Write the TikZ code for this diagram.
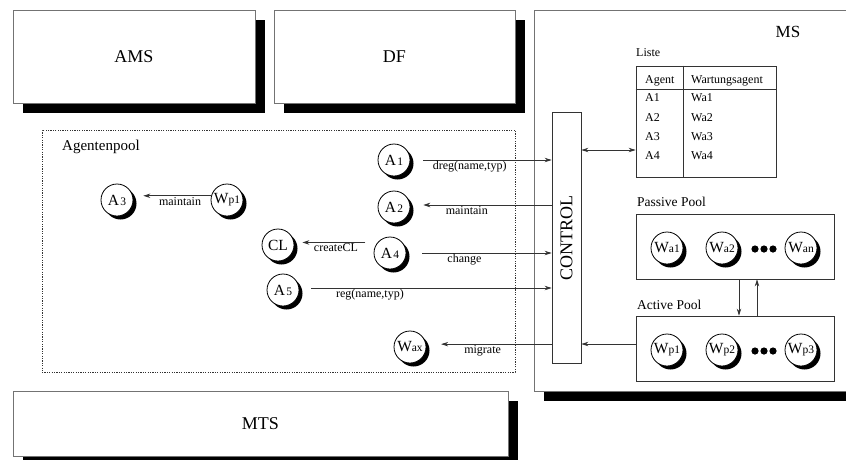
\documentclass[tikz,border=0pt]{standalone}
\usepackage{fontspec}
\setmainfont{Liberation Serif}
\usetikzlibrary{arrows.meta,shadows}
\newcommand\agA[1]{A\hspace{1.5pt}{\fontsize{11.5}{12}\selectfont #1}}
\newcommand\agW[1]{W{\fontsize{11.5}{12}\selectfont #1}}
\begin{document}
\begin{tikzpicture}[x=1pt,y=-1pt,
  bigbox/.style={draw=black!55, line width=0.9pt, fill=white, inner sep=0pt,
    drop shadow={shadow xshift=10pt, shadow yshift=-10pt, fill=black, opacity=1}},
  ag/.style={circle, draw=black, line width=0.8pt, fill=white, minimum size=32pt, inner sep=0pt,
    font=\fontsize{15.5}{16}\selectfont,
    drop shadow={shadow xshift=3.5pt, shadow yshift=-3.5pt, fill=black, opacity=1}},
  arr/.style={draw=black!80, line width=0.8pt, -{Stealth[length=7pt,width=4.5pt]}},
  darr/.style={draw=black!80, line width=0.8pt, {Stealth[length=7pt,width=4.5pt]}-{Stealth[length=7pt,width=4.5pt]}},
  lbl/.style={font=\fontsize{12}{13}\selectfont, inner sep=1pt},
  tbl/.style={font=\fontsize{12}{13}\selectfont, inner sep=0pt, anchor=west},
  plain/.style={draw=black!80, line width=0.8pt, fill=white, inner sep=0pt},
  big/.style={font=\fontsize{18}{20}\selectfont},
]
\useasboundingbox (0,0) rectangle (846,459);

% main boxes
\node[bigbox, big, minimum width=242pt, minimum height=93pt] (AMS) at (134,56.5) {AMS};
\node[bigbox, big, minimum width=241pt, minimum height=93pt] (DF) at (394.5,56.5) {DF};
\node[bigbox, minimum width=320pt, minimum height=381pt] (MS) at (694,200.5) {};
\node[font=\fontsize{17}{18}\selectfont] (MSlabel) at (788,32) {MS};
\node[bigbox, big, minimum width=495pt, minimum height=65pt] (MTS) at (260.5,423.5) {MTS};

% agent pool
\node[draw=black!80, dash pattern=on 1.2pt off 1.2pt, line width=0.7pt,
  minimum width=473pt, minimum height=242pt, inner sep=0pt] (pool) at (278.5,251) {};
\node[font=\fontsize{15}{16}\selectfont, anchor=west, inner sep=0pt] (poollabel) at (62,147) {Agentenpool};

% control
\node[plain, minimum width=29pt, minimum height=251pt] (CTRL) at (566.5,237.5) {};
\node[rotate=90, big, inner sep=0pt] (ctrltext) at (CTRL.center) {CONTROL};

% table
\node[tbl] (liste) at (636,53) {Liste};
\node[plain, minimum width=140pt, minimum height=111pt] (LST) at (706,121.5) {};
\draw[draw=black!80, line width=0.8pt] ([yshift=-24pt]LST.north west) -- ([yshift=-24pt]LST.north east);
\draw[draw=black!80, line width=0.8pt] ([xshift=48pt]LST.north west) -- ([xshift=48pt]LST.south west);
\node[tbl] (h1) at (645,81) {Agent};
\node[tbl] (h2) at (691,81) {Wartungsagent};
\node[tbl] (r1a) at (645,98) {A1};
\node[tbl] (r1b) at (691,98) {Wa1};
\node[tbl] (r2a) at (645,118) {A2};
\node[tbl] (r2b) at (691,118) {Wa2};
\node[tbl] (r3a) at (645,137) {A3};
\node[tbl] (r3b) at (691,137) {Wa3};
\node[tbl] (r4a) at (645,156) {A4};
\node[tbl] (r4b) at (691,156) {Wa4};

% pools
\node[tbl, font=\fontsize{13.5}{15}\selectfont] (pplabel) at (637,202) {Passive Pool};
\node[plain, minimum width=198pt, minimum height=65pt] (PP) at (735,246.5) {};
\node[tbl, font=\fontsize{13.5}{15}\selectfont] (aplabel) at (637,305) {Active Pool};
\node[plain, minimum width=198pt, minimum height=65pt] (AP) at (735,348.5) {};

\node[ag] (Wa1) at (667,248) {\agW{a1}};
\node[ag] (Wa2) at (722,248) {\agW{a2}};
\node[ag] (Wan) at (801,248) {\agW{an}};
\node[ag] (Wp1) at (667,350) {\agW{p1}};
\node[ag] (Wp2) at (722,350) {\agW{p2}};
\node[ag] (Wp3) at (801,350) {\agW{p3}};
\foreach \x in {755,764,773} {
  \fill (\x,249) circle (3.6pt);
  \fill (\x,351) circle (3.6pt);
}

% left agents
\node[ag] (A3) at (117,200) {\agA{3}};
\node[ag] (Wp1L) at (227,200) {\agW{p1}};
\node[ag] (CL) at (278,245) {CL};
\node[ag] (A5) at (283,290) {\agA{5}};
\node[ag] (A1) at (394,160) {\agA{1}};
\node[ag] (A2) at (394,207) {\agA{2}};
\node[ag] (A4) at (390,253) {\agA{4}};
\node[ag] (Wax) at (410,347) {\agW{ax}};

% connectors
\draw[arr, shorten >=10pt] (Wp1L.165) -- (Wp1L.165 -| A3.east)
  node[lbl, below, pos=0.4] {maintain};
\draw[arr, shorten <=12pt, shorten >=8pt] (A4.140) -- (A4.140 -| CL.east)
  node[lbl, below, pos=0.5] {createCL};
\draw[arr, shorten <=13pt] (A1.east) -- (A1.east -| CTRL.west)
  node[lbl, below, pos=0.42] {dreg(name,typ)};
\draw[arr, shorten >=13pt] (A2.7 -| CTRL.west) -- (A2.7)
  node[lbl, below, pos=0.6] {maintain};
\draw[arr, shorten <=16pt] (A4.east) -- (A4.east -| CTRL.west)
  node[lbl, below, pos=0.4] {change};
\draw[arr, shorten <=12pt] (A5.7) -- (A5.7 -| CTRL.west)
  node[lbl, below, pos=0.28] {reg(name,typ)};
\draw[arr, shorten >=15pt] (Wax.10 -| CTRL.west) -- (Wax.10)
  node[lbl, below, pos=0.55] {migrate};

\coordinate (lstin) at ([yshift=-28.5pt]LST.west);
\draw[darr] (lstin -| CTRL.east) -- (lstin);
\coordinate (apout) at ([yshift=4.5pt]AP.west);
\draw[arr] (apout) -- (apout -| CTRL.east);
\draw[arr] ([xshift=4pt]PP.south) -- ([xshift=4pt]AP.north);
\draw[arr] ([xshift=22pt]AP.north) -- ([xshift=22pt]PP.south);
\end{tikzpicture}
\end{document}
